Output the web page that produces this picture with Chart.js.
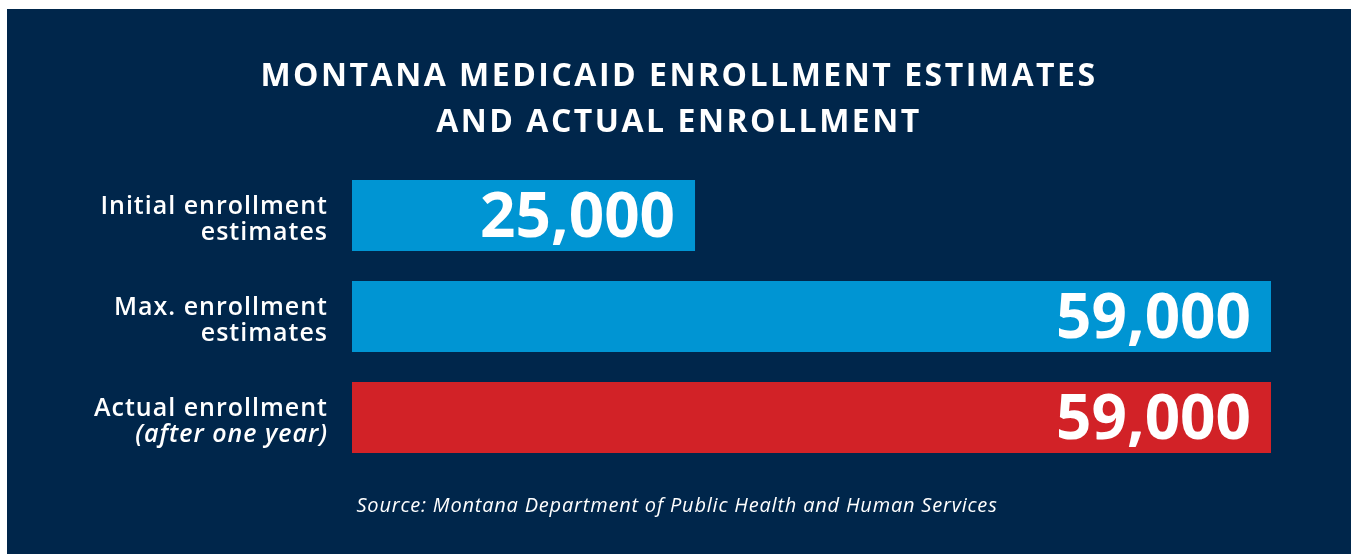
<!DOCTYPE html>
<html>
<head>
<meta charset="utf-8">
<script src="https://cdn.jsdelivr.net/npm/chart.js@4.4.1/dist/chart.umd.min.js"></script>
<style>
  html, body { margin: 0; padding: 0; background: #ffffff; }
  #panel { position: absolute; left: 7px; top: 9px; width: 1344px; height: 545px; background: #00264b; }
  canvas { display: block; }
</style>
</head>
<body>
<div id="panel"><canvas id="chartEnrollment" width="1344" height="545"></canvas></div>
<script>
// Données
const categories = ['Initial enrollment', 'Max. enrollment', 'Actual enrollment'];
const categorySecondLines = ['estimates', 'estimates', '(after one year)'];
const enrollment = [25000, 59000, 59000];
const valueLabels = ['25,000', '59,000', '59,000'];
const titleLines = ['MONTANA MEDICAID ENROLLMENT ESTIMATES', 'AND ACTUAL ENROLLMENT'];
const sourceText = 'Source: Montana Department of Public Health and Human Services';

const barColors = ['#0095d3', '#0095d3', '#d22227'];
const fontFamily = '"Open Sans", "Noto Sans", sans-serif';

// Titre, libellés des catégories, valeurs dans les barres et source
const labelsPlugin = {
    id: 'enrollmentLabels',
    afterDatasetsDraw(chart) {
        const ctx = chart.ctx;
        const yScale = chart.scales.y;
        const meta = chart.getDatasetMeta(0);
        const cx = chart.width / 2;
        ctx.save();
        ctx.fillStyle = '#ffffff';
        ctx.textBaseline = 'alphabetic';

        // titre
        ctx.textAlign = 'center';
        ctx.font = 'bold 32px ' + fontFamily;
        ctx.letterSpacing = '2.5px';
        ctx.fillText(titleLines[0], cx, 77);
        ctx.fillText(titleLines[1], cx, 123);

        categories.forEach((cat, i) => {
            const yc = yScale.getPixelForValue(i);
            const x = yScale.right - 24;
            ctx.textAlign = 'right';
            ctx.letterSpacing = '1px';
            ctx.font = '600 25px ' + fontFamily;
            ctx.fillText(cat, x, yc - 2);
            const second = categorySecondLines[i];
            ctx.font = (second.startsWith('(') ? 'italic ' : '') + '600 25px ' + fontFamily;
            ctx.fillText(second, x, yc + 24);

            // valeur dans la barre
            const bar = meta.data[i];
            ctx.letterSpacing = '0px';
            ctx.font = 'bold 62px ' + fontFamily;
            ctx.fillText(valueLabels[i], bar.x - 20, yc + 21);
        });

        // source
        ctx.textAlign = 'center';
        ctx.letterSpacing = '0.8px';
        ctx.font = 'italic 20px ' + fontFamily;
        ctx.fillText(sourceText, cx - 2, 503);
        ctx.restore();
    }
};

const canvas = document.getElementById('chartEnrollment');

new Chart(canvas, {
    type: 'bar',
    data: {
        labels: categories,
        datasets: [{
            data: enrollment,
            backgroundColor: barColors,
            borderWidth: 0,
            barPercentage: 1,
            categoryPercentage: 0.703
        }]
    },
    options: {
        indexAxis: 'y',
        responsive: false,
        animation: false,
        devicePixelRatio: 1,
        layout: { padding: { left: 80, right: 80, top: 156, bottom: 86 } },
        plugins: {
            legend: { display: false },
            tooltip: { enabled: false },
            title: { display: false }
        },
        scales: {
            x: {
                display: false,
                min: 4750,
                max: 59000
            },
            y: {
                display: true,
                grid: { display: false },
                border: { display: false },
                ticks: { display: false },
                afterFit(scale) { scale.width = 265; }
            }
        }
    },
    plugins: [labelsPlugin]
});
</script>
</body>
</html>
